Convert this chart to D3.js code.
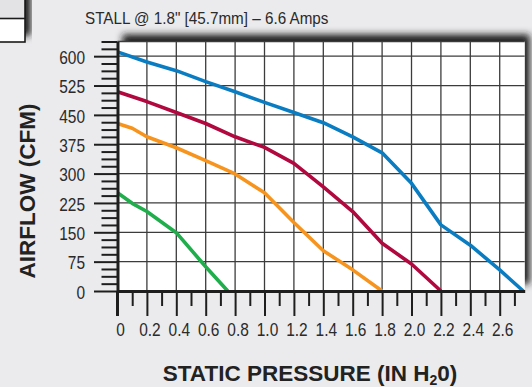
<!DOCTYPE html>
<html><head><meta charset="utf-8">
<script src="https://cdn.jsdelivr.net/npm/d3@7"></script>
<style>
html,body{margin:0;padding:0;background:#ebebed;}
svg{display:block;}
</style></head>
<body>
<svg id="c" width="532" height="387"></svg>
<script>
// ---- data ----
const titleText = "STALL @ 1.8\" [45.7mm] \u2013 6.6 Amps";
const xTickValues = [0,0.2,0.4,0.6,0.8,1.0,1.2,1.4,1.6,1.8,2.0,2.2,2.4,2.6];
const xTickLabels = ["0","0.2","0.4","0.6","0.8","1.0","1.2","1.4","1.6","1.8","2.0","2.2","2.4","2.6"];
const xMinorTicks = [0.1,0.3,0.5,0.7,0.9,1.1,1.3,1.5,1.7,1.9,2.1,2.3,2.5,2.7];
const yTickValues = [0,75,150,225,300,375,450,525,600];
const yTickLabels = ["0","75","150","225","300","375","450","525","600"];
const yMinorTicks = [18.75,37.5,56.25,93.75,112.5,131.25,168.75,187.5,206.25,243.75,262.5,281.25,318.75,337.5,356.25,393.75,412.5,431.25,468.75,487.5,506.25,543.75,562.5,581.25,618.75,637.5];

const blueX  = [0,0.2,0.4,0.6,0.8,1.0,1.2,1.4,1.6,1.8,2.0,2.2,2.4,2.6,2.76];
const blueY  = [611,585,563,535,509,482,456,430,394,353,275,169,117,54,0];
const redX   = [0,0.2,0.4,0.6,0.8,1.0,1.2,1.4,1.6,1.8,2.0,2.2];
const redY   = [509,484,456,428,394,367,326,266,203,122,69,0];
const orangeX= [0,0.1,0.2,0.4,0.6,0.8,1.0,1.2,1.4,1.6,1.8];
const orangeY= [428,416,394,366,333,299,251,175,103,54,0];
const greenX = [0,0.1,0.2,0.4,0.6,0.75];
const greenY = [251,224,203,149,62,0];

const series = [
  {xs: blueX, ys: blueY, color: "#0a7dc2"},
  {xs: redX, ys: redY, color: "#b0083f"},
  {xs: orangeX, ys: orangeY, color: "#f7941e"},
  {xs: greenX, ys: greenY, color: "#1fae4b"}
];

// ---- layout ----
const svg = d3.select("#c");
const x = d3.scaleLinear().domain([0, 2.77]).range([117.5, 524.7]);
const y = d3.scaleLinear().domain([0, 637.5]).range([291, 41.5]);

const defs = svg.append("defs");
const f = defs.append("filter").attr("id","sh").attr("x","-20%").attr("y","-30%").attr("width","140%").attr("height","160%");
f.append("feDropShadow").attr("dx",5).attr("dy",-7).attr("stdDeviation",3.8)
  .attr("flood-color","#1a1a1a").attr("flood-opacity",1);

// top-left legend box fragment
svg.append("rect").attr("x",-10).attr("y",-10).attr("width",35).attr("height",52)
  .attr("fill","#fff").attr("stroke","#1a1a1a").attr("stroke-width",1.6).attr("filter","url(#sh)");
svg.append("rect").attr("x",-10).attr("y",-10).attr("width",35).attr("height",28.5)
  .attr("fill","#e3e3e5").attr("stroke","#1a1a1a").attr("stroke-width",1.6);

// title
svg.append("text").attr("x",85).attr("y",24.5)
  .attr("font-family","'Liberation Sans', Arial, sans-serif").attr("font-size",16.2)
  .attr("transform","translate(85,0) scale(0.94,1) translate(-85,0)")
  .attr("fill","#2a2a2a").text(titleText);

// plot area
const [x0,x1] = x.range(); const [y0,y1] = y.range();
svg.append("rect").attr("x",x0).attr("y",y1).attr("width",x1-x0).attr("height",y0-y1)
  .attr("fill","#fff").attr("filter","url(#sh)");

// grid
const g = svg.append("g").attr("stroke","#3c3c3c").attr("stroke-width",1.3);
xTickValues.filter(d=>d>0).forEach(d=>{
  g.append("line").attr("x1",x(d)).attr("x2",x(d)).attr("y1",y0).attr("y2",y1);
});
yTickValues.filter(d=>d>0).concat([637.5]).forEach(d=>{
  g.append("line").attr("x1",x0).attr("x2",x1).attr("y1",y(d)).attr("y2",y(d));
});

// lines
const line = d3.line().x(d=>x(d[0])).y(d=>y(d[1]));
series.forEach(s=>{
  const pts = s.xs.map((v,i)=>[v, s.ys[i]]);
  svg.append("path").attr("d", line(pts)).attr("fill","none")
    .attr("stroke", s.color).attr("stroke-width",3.6)
    .attr("stroke-linejoin","round").attr("stroke-linecap","butt");
});

// axes
const font = "'Liberation Sans', Arial, sans-serif";
const sx = 0.86;
function styleAxis(sel){
  sel.selectAll(".tick line").attr("stroke","#1e1e1e").attr("stroke-width",2);
  sel.select(".domain").attr("stroke","#1e1e1e").attr("stroke-width",3);
  sel.selectAll("text").attr("font-family",font).attr("font-size",18).attr("fill","#2a2a2a");
}
const xMinor = svg.append("g").attr("transform",`translate(0,${y0})`)
  .call(d3.axisBottom(x).tickValues(xMinorTicks).tickSize(15).tickSizeOuter(0).tickFormat(""));
styleAxis(xMinor); xMinor.select(".domain").remove();
const xMajor = svg.append("g").attr("transform",`translate(0,${y0})`)
  .call(d3.axisBottom(x).tickValues(xTickValues).tickSize(25).tickSizeOuter(0).tickPadding(7)
    .tickFormat((d,i)=>xTickLabels[i]));
styleAxis(xMajor);
xMajor.selectAll(".tick text").attr("dx",2.5/sx).attr("transform",`scale(${sx},1)`);

const yMinor = svg.append("g").attr("transform",`translate(${x0},0)`)
  .call(d3.axisLeft(y).tickValues(yMinorTicks).tickSize(16).tickSizeOuter(0).tickFormat(""));
styleAxis(yMinor); yMinor.select(".domain").remove();
const yMajor = svg.append("g").attr("transform",`translate(${x0},0)`)
  .call(d3.axisLeft(y).tickValues(yTickValues).tickSize(23.5).tickSizeOuter(0).tickPadding(9)
    .tickFormat((d,i)=>yTickLabels[i]));
styleAxis(yMajor);
yMajor.selectAll(".tick text").attr("dy","0.4em")
  .attr("x", -32.5/sx).attr("transform",`scale(${sx},1)`);
// extend y axis line down to meet the long zero tick
svg.append("line").attr("x1",x0).attr("x2",x0).attr("y1",y0).attr("y2",y0+25)
  .attr("stroke","#1e1e1e").attr("stroke-width",3);

// axis titles
const xt = svg.append("text").attr("x",310).attr("y",380.5).attr("text-anchor","middle")
  .attr("font-family",font).attr("font-weight","bold").attr("font-size",22.5).attr("fill","#222");
xt.append("tspan").text("STATIC PRESSURE (IN H");
xt.append("tspan").attr("font-size",14).attr("dy",4).text("2");
xt.append("tspan").attr("dy",-4).text("0)");

svg.append("text").attr("transform","translate(35,191) rotate(-90)").attr("text-anchor","middle")
  .attr("font-family",font).attr("font-weight","bold").attr("font-size",22.5).attr("fill","#222")
  .text("AIRFLOW (CFM)");
</script>
</body></html>
